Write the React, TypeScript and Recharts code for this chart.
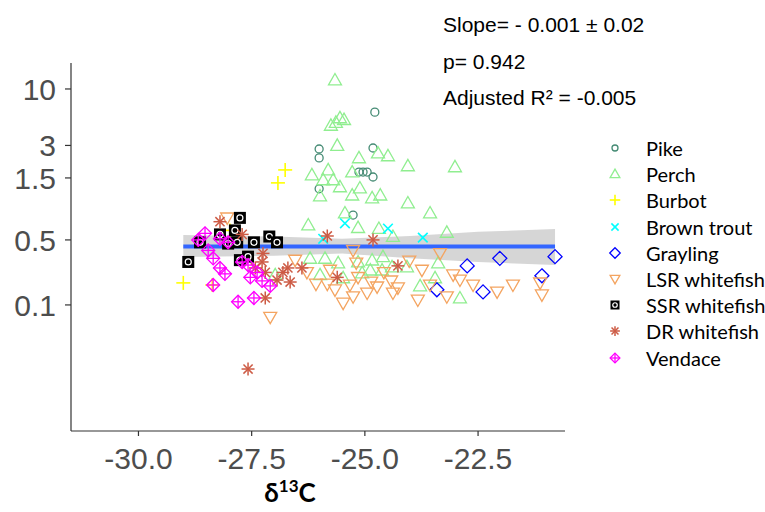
import React from "react";
import { ComposedChart, Scatter, Area, Line, XAxis, YAxis, Legend } from "recharts";

// [δ13C, value] pairs per species
const pike = [
  [-24.78, 6.1], [-24.82, 2.84], [-24.82, 1.53], [-26.01, 2.78], [-26.01, 2.3],
  [-25.13, 1.7], [-25.04, 1.7], [-24.95, 1.7], [-26.01, 1.19], [-25.26, 0.68],
];
const perch = [
  [-25.66, 12.1], [-25.55, 5.4], [-25.46, 5.2], [-25.64, 4.9], [-25.75, 4.6],
  [-25.61, 3.0], [-25.13, 2.3], [-24.71, 2.55], [-24.49, 2.4], [-24.05, 1.94],
  [-23.01, 1.9], [-25.81, 1.78], [-26.17, 1.6], [-25.28, 1.7], [-25.92, 1.44],
  [-25.7, 1.44], [-25.55, 1.24], [-25.11, 1.21], [-25.28, 1.04], [-24.84, 0.98],
  [-24.66, 1.04], [-25.99, 1.02], [-24.05, 0.88], [-25.44, 0.71], [-23.56, 0.71],
  [-26.25, 0.55], [-25.15, 0.52], [-24.69, 0.51], [-24.38, 0.43], [-23.19, 0.47],
  [-26.21, 0.27], [-25.88, 0.27], [-25.59, 0.245], [-25.15, 0.25], [-24.84, 0.26],
  [-24.6, 0.28], [-24.4, 0.225], [-24.07, 0.225], [-23.38, 0.245], [-25.06, 0.198],
  [-24.88, 0.21], [-24.62, 0.21], [-25.99, 0.19], [-25.48, 0.178], [-23.45, 0.178],
  [-23.78, 0.15], [-22.9, 0.116], [-26.98, 0.19],
];
const burbot = [[-26.76, 1.78], [-26.92, 1.35], [-29.01, 0.16], [-28.37, 0.153], [-27.98, 0.49]];
const brownTrout = [[-25.44, 0.57], [-24.49, 0.51], [-23.72, 0.42], [-25.92, 0.41]];
const grayling = [
  [-23.41, 0.138], [-22.74, 0.23], [-22.39, 0.132], [-22.02, 0.27], [-21.09, 0.186], [-20.8, 0.28],
];
const lsrWhitefish = [
  [-28.04, 0.64], [-27.09, 0.077], [-26.54, 0.26], [-26.28, 0.2], [-26.08, 0.156],
  [-25.83, 0.156], [-25.48, 0.104], [-25.26, 0.119], [-25.33, 0.153], [-25.19, 0.245],
  [-25.15, 0.18], [-24.95, 0.129], [-24.86, 0.163], [-24.73, 0.147], [-24.42, 0.167],
  [-24.38, 0.129], [-24.27, 0.144], [-24.02, 0.255], [-23.74, 0.21], [-23.34, 0.3],
  [-23.05, 0.19], [-22.9, 0.17], [-23.19, 0.119], [-23.83, 0.111], [-22.61, 0.153],
  [-22.08, 0.132], [-21.73, 0.153], [-21.13, 0.16], [-21.09, 0.124], [-25.26, 0.32],
  [-25.66, 0.138], [-24.58, 0.2], [-25.77, 0.21], [-23.56, 0.153],
];
const ssrWhitefish = [
  [-27.76, 0.64], [-27.87, 0.49], [-28.2, 0.45], [-28.64, 0.38], [-27.82, 0.38],
  [-27.45, 0.38], [-27.11, 0.43], [-26.94, 0.38], [-28.9, 0.25], [-27.76, 0.26],
  [-27.58, 0.28], [-28.02, 0.37],
];
const drWhitefish = [
  [-28.2, 0.59], [-27.71, 0.45], [-27.25, 0.3], [-27.27, 0.25], [-27.2, 0.2],
  [-26.94, 0.17], [-26.81, 0.2], [-26.7, 0.22], [-26.65, 0.163], [-26.39, 0.22],
  [-25.61, 0.18], [-25.83, 0.435], [-24.82, 0.4], [-24.27, 0.23], [-27.2, 0.116],
  [-27.58, 0.0255], [-27.42, 0.22],
];
const vendace = [
  [-28.53, 0.46], [-28.2, 0.41], [-28.02, 0.38], [-28.46, 0.32], [-28.35, 0.27],
  [-28.2, 0.22], [-28.09, 0.194], [-27.71, 0.25], [-27.58, 0.234], [-27.53, 0.18],
  [-27.38, 0.2], [-27.27, 0.167], [-27.09, 0.15], [-28.35, 0.153], [-27.8, 0.107],
  [-27.45, 0.116], [-28.68, 0.4],
];

// linear fit on the log axis and its confidence band
const fitX = [-29.01, -27.0, -25.5, -24.0, -22.5, -20.8];
const fitY = [0.347, 0.347, 0.347, 0.347, 0.347, 0.347];
const bandLow = [0.278, 0.285, 0.3, 0.27, 0.25, 0.234];
const bandHigh = [0.445, 0.43, 0.41, 0.435, 0.475, 0.505];

const xTicks = [-30, -27.5, -25, -22.5];
// the break labelled 0.5 sits at 0.4
const yTicks = [0.1, 0.4, 1.5, 3, 10];
const yTickLabels = ["0.1", "0.5", "1.5", "3", "10"];

const statLines = ["Slope= - 0.001 \u00b1 0.02", "p= 0.942", "Adjusted R\u00b2 = -0.005"];

const species = [
  { name: "Pike", color: "#458B74", mark: "circle", points: pike },
  { name: "Perch", color: "#90EE90", mark: "triUp", points: perch },
  { name: "Burbot", color: "#FFFF00", mark: "plus", points: burbot },
  { name: "Brown trout", color: "#00FFFF", mark: "cross", points: brownTrout },
  { name: "Grayling", color: "#0000FF", mark: "diamond", points: grayling },
  { name: "LSR whitefish", color: "#F4A460", mark: "triDown", points: lsrWhitefish },
  { name: "SSR whitefish", color: "#000000", mark: "boxed", points: ssrWhitefish },
  { name: "DR whitefish", color: "#CD5B45", mark: "star", points: drWhitefish },
  { name: "Vendace", color: "#FF00FF", mark: "diamondPlus", points: vendace },
];

const fitRows = fitX.map((x, i) => ({ x, fit: fitY[i], band: [bandLow[i], bandHigh[i]] }));

const TICK_FONT = '"Liberation Sans", Arial, sans-serif';
const LEGEND_FONT = 'Lato, "Open Sans", sans-serif';

function Mark({ kind, x, y, color, k = 1 }: { kind: string; x: number; y: number; color: string; k?: number }) {
  const sw = 1.3;
  const common = { fill: "none", stroke: color, strokeWidth: sw };
  switch (kind) {
    case "circle":
      return <circle cx={x} cy={y} r={4 * k} {...common} />;
    case "triUp": {
      const s = 6.5 * k;
      return <polygon points={`${x},${y - s} ${x + s},${y + s * 0.75} ${x - s},${y + s * 0.75}`} {...common} />;
    }
    case "triDown": {
      const s = 6.5 * k;
      return <polygon points={`${x},${y + s} ${x + s},${y - s * 0.75} ${x - s},${y - s * 0.75}`} {...common} />;
    }
    case "plus": {
      const s = 7 * k;
      return (
        <g {...common} strokeWidth={1.6}>
          <line x1={x - s} y1={y} x2={x + s} y2={y} />
          <line x1={x} y1={y - s} x2={x} y2={y + s} />
        </g>
      );
    }
    case "cross": {
      const s = 4.8 * k;
      return (
        <g {...common} strokeWidth={1.6}>
          <line x1={x - s} y1={y - s} x2={x + s} y2={y + s} />
          <line x1={x - s} y1={y + s} x2={x + s} y2={y - s} />
        </g>
      );
    }
    case "diamond": {
      const s = 7 * k;
      return <polygon points={`${x},${y - s} ${x + s},${y} ${x},${y + s} ${x - s},${y}`} {...common} />;
    }
    case "boxed": {
      const s = 6 * k;
      return (
        <g>
          <rect x={x - s} y={y - s} width={2 * s} height={2 * s} fill="#000" />
          <circle cx={x} cy={y} r={3 * k} fill="#000" stroke="#fff" strokeWidth={1.2} />
        </g>
      );
    }
    case "star": {
      const s = 6.5 * k;
      const d = s * 0.7071;
      return (
        <g {...common} strokeWidth={1.5}>
          <line x1={x - s} y1={y} x2={x + s} y2={y} />
          <line x1={x} y1={y - s} x2={x} y2={y + s} />
          <line x1={x - d} y1={y - d} x2={x + d} y2={y + d} />
          <line x1={x - d} y1={y + d} x2={x + d} y2={y - d} />
        </g>
      );
    }
    case "diamondPlus": {
      const s = 6.5 * k;
      return (
        <g {...common}>
          <polygon points={`${x},${y - s} ${x + s},${y} ${x},${y + s} ${x - s},${y}`} />
          <line x1={x - s} y1={y} x2={x + s} y2={y} />
          <line x1={x} y1={y - s} x2={x} y2={y + s} />
        </g>
      );
    }
    default:
      return null;
  }
}

function SpeciesLegend() {
  return (
    <div style={{ fontFamily: LEGEND_FONT, fontSize: 20, color: "#000" }}>
      {species.map((sp) => (
        <div key={sp.name} style={{ display: "flex", alignItems: "center", height: 26.2 }}>
          <svg width={30} height={20} style={{ flex: "none" }}>
            <Mark kind={sp.mark} x={15} y={10} color={sp.color} k={0.75} />
          </svg>
          <span style={{ marginLeft: 16, whiteSpace: "nowrap" }}>{sp.name}</span>
        </div>
      ))}
    </div>
  );
}

export default function App() {
  return (
    <div style={{ position: "absolute", left: 0, top: 0, width: 765, height: 512, background: "#fff", overflow: "hidden" }}>
      <ComposedChart
        width={765}
        height={512}
        data={fitRows}
        margin={{ top: 63, right: 200, bottom: 0, left: 0 }}
      >
        <XAxis
          type="number"
          dataKey="x"
          domain={[-31.49, -20.58]}
          ticks={xTicks}
          interval={0}
          tickFormatter={(v: number) => v.toFixed(1)}
          allowDataOverflow
          height={81}
          tickSize={5}
          tickMargin={12}
          axisLine={{ stroke: "#333", strokeWidth: 1.2 }}
          tickLine={{ stroke: "#333", strokeWidth: 1.2 }}
          tick={{ fill: "#4D4D4D", fontSize: 30, fontFamily: TICK_FONT }}
        />
        <YAxis
          type="number"
          scale="log"
          domain={[0.0068, 17.4]}
          ticks={yTicks}
          interval={0}
          tickFormatter={(v: number) => yTickLabels[yTicks.indexOf(v)] ?? String(v)}
          allowDataOverflow
          width={71}
          tickSize={6}
          tickMargin={9}
          axisLine={{ stroke: "#333", strokeWidth: 1.2 }}
          tickLine={{ stroke: "#333", strokeWidth: 1.2 }}
          tick={{ fill: "#4D4D4D", fontSize: 30, fontFamily: TICK_FONT }}
        />
        {species.map((sp) => (
          <Scatter
            key={sp.name}
            name={sp.name}
            data={sp.points.map(([x, y]) => ({ x, y }))}
            dataKey="y"
            isAnimationActive={false}
            shape={(p: any) => <Mark kind={sp.mark} x={p.cx} y={p.cy} color={sp.color} />}
          />
        ))}
        <Area
          dataKey="band"
          type="linear"
          stroke="none"
          fill="#999999"
          fillOpacity={0.4}
          isAnimationActive={false}
        />
        <Line
          dataKey="fit"
          type="linear"
          stroke="#3366FF"
          strokeWidth={4}
          dot={false}
          isAnimationActive={false}
        />
        <Legend
          layout="vertical"
          align="center"
          verticalAlign="middle"
          content={() => <SpeciesLegend />}
          wrapperStyle={{ position: "absolute", left: 600, top: 135, width: 165, height: 240 }}
        />
      </ComposedChart>
      <div
        style={{
          position: "absolute",
          left: 443,
          top: 8,
          fontFamily: TICK_FONT,
          fontSize: 21,
          color: "#000",
          whiteSpace: "nowrap",
        }}
      >
        {statLines.map((t) => (
          <div key={t} style={{ height: 36.5, lineHeight: "34px" }}>
            {t}
          </div>
        ))}
      </div>
      <div
        style={{
          position: "absolute",
          left: 190,
          width: 200,
          top: 474,
          height: 36,
          textAlign: "center",
          fontFamily: LEGEND_FONT,
          fontWeight: 700,
          fontSize: 26,
          lineHeight: "36px",
          color: "#000",
        }}
      >
        δ<span style={{ fontSize: 17, position: "relative", top: -10 }}>13</span>C
      </div>
    </div>
  );
}
